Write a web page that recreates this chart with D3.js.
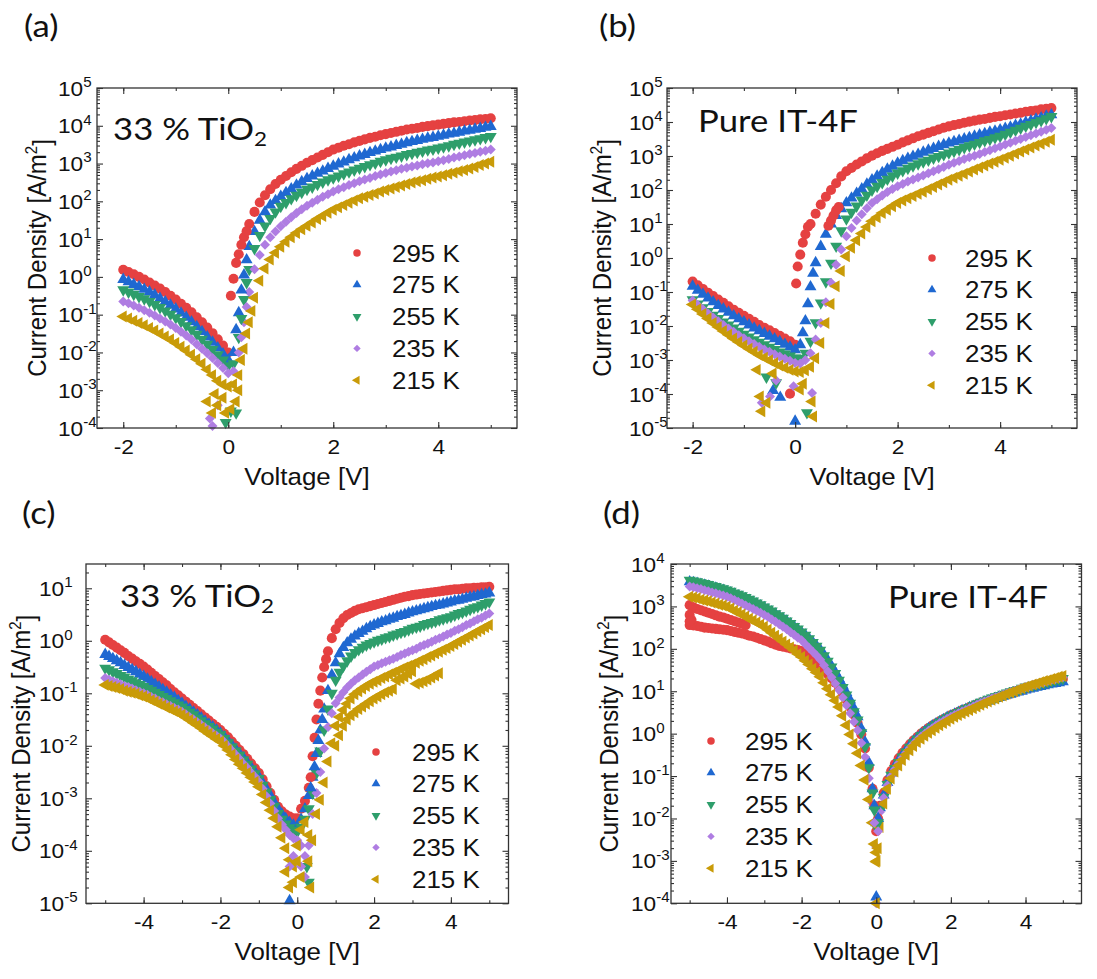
<!DOCTYPE html>
<html>
<head>
<meta charset="utf-8">
<script src="https://cdn.jsdelivr.net/npm/d3@7"></script>
<style>
body { margin: 0; background: #fff; }
svg { display: block; }
</style>
</head>
<body>
<svg id="fig" width="1097" height="979"></svg>
<script>
var temps = ["295 K", "275 K", "255 K", "235 K", "215 K"];
var colors = ["#E54141", "#1F68D1", "#2E9E6B", "#AF7DE2", "#C99B08"];

// voltage sweeps (V)
var voltsShort = [-2,-1.9,-1.8,-1.7,-1.6,-1.5,-1.4,-1.3,-1.2,-1.1,-1,-0.9,-0.8,-0.7,-0.6,-0.5,-0.4,-0.3,-0.2,-0.1,
  0,0.1,0.2,0.3,0.4,0.5,0.6,0.7,0.8,0.9,1,1.1,1.2,1.3,1.4,1.5,1.6,1.7,1.8,1.9,2,2.1,2.2,2.3,2.4,2.5,2.6,2.7,2.8,2.9,
  3,3.1,3.2,3.3,3.4,3.5,3.6,3.7,3.8,3.9,4,4.1,4.2,4.3,4.4,4.5,4.6,4.7,4.8,4.9,5];
var voltsLong = [-5,-4.9,-4.8,-4.7,-4.6,-4.5,-4.4,-4.3,-4.2,-4.1,-4,-3.9,-3.8,-3.7,-3.6,-3.5,-3.4,-3.3,-3.2,-3.1,
  -3,-2.9,-2.8,-2.7,-2.6,-2.5,-2.4,-2.3,-2.2,-2.1].concat(voltsShort);

// all current densities stored as log10(J / A m^-2)
// (a) 33 % TiO2, -2..5 V
var aJ295 = [0.19,0.13,0.07,0,-0.07,-0.15,-0.23,-0.31,-0.4,-0.5,-0.6,-0.71,-0.82,-0.94,-1.07,-1.2,-1.34,-1.49,-1.65,-1.82,-2,
  -0.05,0.6,1.05,1.4,1.72,1.97,2.16,2.32,2.46,2.57,2.67,2.77,2.86,2.94,3.02,3.09,3.16,3.23,3.3,3.37,
  3.42,3.47,3.51,3.56,3.6,3.64,3.68,3.71,3.75,3.78,3.81,3.84,3.87,3.9,3.92,3.94,3.97,3.99,4.01,4.03,
  4.05,4.07,4.09,4.1,4.12,4.14,4.15,4.17,4.18,4.2];
var aJ275 = [-0.07,-0.13,-0.2,-0.26,-0.33,-0.4,-0.48,-0.57,-0.66,-0.75,-0.85,-0.96,-1.07,-1.19,-1.32,-1.45,-1.59,-1.73,-1.88,-2.04,-2.2,
  -2,-0.95,0.05,0.8,1.2,1.5,1.72,1.9,2.02,2.13,2.23,2.33,2.43,2.52,2.6,2.67,2.74,2.8,2.87,2.93,
  2.99,3.04,3.1,3.15,3.2,3.24,3.29,3.33,3.37,3.41,3.44,3.48,3.51,3.55,3.58,3.61,3.64,3.67,3.69,3.72,
  3.75,3.78,3.8,3.83,3.86,3.88,3.91,3.93,3.96,3.98];
var aJ255 = [-0.34,-0.4,-0.46,-0.52,-0.58,-0.65,-0.73,-0.81,-0.9,-0.99,-1.08,-1.18,-1.29,-1.4,-1.52,-1.65,-1.78,-1.92,-2.06,-2.2,-2.35,
  -2.3,-1.6,-0.6,0.2,0.75,1.1,1.35,1.55,1.72,1.87,1.97,2.07,2.16,2.24,2.32,2.38,2.45,2.51,2.57,2.62,
  2.67,2.73,2.78,2.83,2.88,2.92,2.97,3.01,3.06,3.1,3.14,3.17,3.2,3.24,3.27,3.3,3.33,3.36,3.38,3.41,
  3.44,3.47,3.51,3.54,3.57,3.6,3.63,3.66,3.69,3.72];
var aJ235 = [-0.65,-0.7,-0.76,-0.82,-0.88,-0.95,-1.02,-1.1,-1.18,-1.26,-1.35,-1.45,-1.55,-1.66,-1.78,-1.9,-2.02,-2.15,-2.28,-2.41,-2.55,
  -2.5,-2,-1.2,-0.4,0.2,0.58,0.85,1.05,1.2,1.34,1.46,1.58,1.69,1.79,1.88,1.96,2.04,2.12,2.19,2.26,
  2.32,2.37,2.43,2.48,2.53,2.58,2.62,2.67,2.71,2.75,2.79,2.82,2.86,2.89,2.92,2.95,2.98,3.01,3.03,3.06,
  3.09,3.12,3.16,3.19,3.22,3.25,3.28,3.31,3.34,3.37];
var aJ215 = [-1.05,-1.1,-1.16,-1.22,-1.28,-1.35,-1.42,-1.5,-1.58,-1.66,-1.75,-1.85,-1.95,-2.06,-2.18,-2.3,-2.45,-2.6,-2.75,-2.85,-2.9,
  -2.85,-2.6,-1.9,-1.2,-0.55,-0.1,0.22,0.46,0.64,0.8,0.93,1.05,1.16,1.26,1.35,1.44,1.53,1.61,1.7,1.78,
  1.84,1.9,1.96,2.02,2.08,2.12,2.17,2.21,2.26,2.3,2.34,2.38,2.42,2.46,2.5,2.53,2.56,2.6,2.63,2.66,
  2.69,2.73,2.76,2.8,2.83,2.87,2.91,2.96,3,3.05];
// [series, V, log10 J] : in-between and scattered points near 0 V
var aExtra = [[0,0.05,-0.5],[0,0.15,0.37],[0,0.25,0.85],[0,0.35,1.21],
  [1,0.15,-1.4],[1,0.25,-0.35],[1,0.35,0.45],
  [2,0.25,-1.1],[2,0.35,-0.15],[2,0.15,-3.6],[2,0.05,-3.55],[2,-0.05,-3.85],
  [3,-0.3,-3.95],[3,-0.35,-3.75],[3,0.25,-1.6],[3,0.35,-0.8],[3,-0.2,-3.4],
  [4,-0.4,-3.3],[4,-0.3,-3.6],[4,-0.2,-3.4],[4,-0.25,-3.1],[4,-0.1,-3.2],[4,0.05,-3.5],[4,0.15,-3.3],
  [4,0.25,-2.2],[4,0.35,-1.5],[4,0.45,-0.9],[4,0.2,-3.0],[4,-0.05,-3.6]];

// (b) pure IT-4F, -2..5 V
var bJ295 = [-0.69,-0.8,-0.91,-1.02,-1.12,-1.22,-1.32,-1.42,-1.52,-1.61,-1.7,-1.79,-1.88,-1.97,-2.05,-2.13,-2.21,-2.29,-2.37,-2.45,-2.55,
  0.1,0.7,1,1.3,1.57,1.8,2,2.2,2.4,2.55,2.65,2.75,2.84,2.93,3.01,3.08,3.15,3.21,3.27,3.33,
  3.4,3.46,3.52,3.58,3.63,3.68,3.73,3.78,3.83,3.87,3.91,3.94,3.98,4.01,4.04,4.07,4.09,4.12,4.15,4.17,
  4.2,4.22,4.25,4.27,4.3,4.32,4.34,4.37,4.39,4.41];
var bJ275 = [-0.83,-0.95,-1.07,-1.18,-1.29,-1.4,-1.5,-1.6,-1.7,-1.79,-1.88,-1.97,-2.06,-2.14,-2.22,-2.3,-2.38,-2.46,-2.54,-2.62,-2.7,
  -2.55,-1.85,-0.85,-0.14,0.34,0.7,1,1.25,1.45,1.62,1.76,1.9,2.03,2.17,2.3,2.41,2.51,2.61,2.7,2.79,
  2.86,2.93,2.99,3.05,3.11,3.17,3.22,3.28,3.33,3.38,3.42,3.46,3.5,3.54,3.58,3.62,3.66,3.7,3.73,3.77,
  3.81,3.85,3.9,3.94,3.99,4.03,4.08,4.12,4.17,4.21];
var bJ255 = [-1.23,-1.35,-1.46,-1.57,-1.68,-1.78,-1.88,-1.97,-2.06,-2.15,-2.24,-2.32,-2.4,-2.48,-2.55,-2.62,-2.69,-2.76,-2.82,-2.88,-2.94,
  -2.95,-2.8,-2.45,-1.9,-1.32,-0.7,-0.15,0.35,0.8,1.15,1.35,1.53,1.7,1.85,2,2.11,2.22,2.32,2.41,2.5,
  2.57,2.64,2.71,2.77,2.83,2.88,2.94,2.99,3.04,3.09,3.14,3.19,3.25,3.3,3.35,3.4,3.45,3.49,3.54,3.58,
  3.64,3.7,3.76,3.82,3.88,3.93,3.99,4.04,4.1,4.16];
var bJ235 = [-1.25,-1.38,-1.51,-1.63,-1.75,-1.86,-1.97,-2.07,-2.17,-2.27,-2.36,-2.45,-2.53,-2.61,-2.69,-2.76,-2.83,-2.9,-2.96,-3.02,-3.09,
  -3.1,-3,-2.8,-2.4,-1.91,-1.3,-0.73,-0.2,0.25,0.64,0.88,1.1,1.29,1.46,1.62,1.73,1.84,1.94,2.03,2.11,
  2.18,2.25,2.31,2.37,2.43,2.49,2.55,2.61,2.68,2.74,2.8,2.85,2.91,2.96,3.01,3.06,3.12,3.17,3.23,3.28,
  3.34,3.39,3.45,3.5,3.56,3.61,3.66,3.71,3.77,3.82];
var bJ215 = [-1.37,-1.51,-1.65,-1.78,-1.91,-2.03,-2.15,-2.26,-2.37,-2.47,-2.57,-2.67,-2.76,-2.85,-2.93,-3.01,-3.09,-3.16,-3.23,-3.29,-3.34,
  -3.35,-3.3,-3.2,-2.95,-2.5,-1.91,-1.35,-0.83,-0.38,0.05,0.3,0.52,0.72,0.91,1.08,1.2,1.32,1.42,1.52,1.62,
  1.69,1.76,1.82,1.89,1.95,2.02,2.09,2.16,2.23,2.3,2.36,2.42,2.48,2.54,2.6,2.66,2.72,2.78,2.83,2.89,
  2.95,3.01,3.07,3.13,3.19,3.25,3.31,3.36,3.42,3.48];
var bExtra = [[0,0.02,-0.75],[0,0.05,-0.25],[0,0.15,0.45],[0,0.25,0.92],[0,-0.1,-3.99],
  [0,0.65,0.95],[0,0.7,1.1],[0,0.75,1.25],[0,0.8,1.4],[0,0.85,1.5],
  [1,0,-4.8],[1,-0.29,-4.1],[1,-0.43,-3.9],[1,0.15,-2.2],[1,0.25,-1.35],[1,0.35,-0.45],
  [2,0.23,-4.55],[2,-0.37,-3.67],[2,-0.56,-3.5],
  [3,-0.65,-4.26],[3,-0.49,-4.07],[3,-0.03,-3.77],[3,0.33,-3.97],[3,-0.37,-3.6],
  [4,-0.65,-4.51],[4,-0.55,-4.26],[4,-0.68,-4.07],[4,-0.74,-3.29],[4,0.36,-4.66],[4,0.33,-4.22],
  [4,0.1,-3.87],[4,0.16,-3.7],[4,-0.43,-3.4]];

// (c) 33 % TiO2, -5..5 V
var cJ295 = [0.02,-0.03,-0.08,-0.13,-0.18,-0.23,-0.29,-0.34,-0.39,-0.44,
  -0.49,-0.55,-0.61,-0.67,-0.73,-0.79,-0.85,-0.92,-0.98,-1.04,
  -1.1,-1.16,-1.22,-1.28,-1.34,-1.4,-1.46,-1.52,-1.58,-1.64,
  -1.7,-1.77,-1.84,-1.92,-2,-2.08,-2.16,-2.25,-2.34,-2.43,
  -2.52,-2.64,-2.77,-2.9,-3.03,-3.16,-3.25,-3.31,-3.35,-3.38,-3.38,
  -3.2,-3.05,-2.8,-2.2,-1.5,-0.95,-0.5,-0.2,0.05,0.22,
  0.34,0.43,0.49,0.53,0.57,0.6,0.62,0.64,0.66,0.68,
  0.7,0.72,0.74,0.76,0.78,0.8,0.82,0.84,0.85,0.87,
  0.88,0.89,0.9,0.91,0.92,0.93,0.94,0.95,0.96,0.97,
  0.98,0.98,0.99,1,1,1.01,1.01,1.02,1.02,1.03];
var cJ275 = [-0.26,-0.3,-0.34,-0.38,-0.42,-0.47,-0.51,-0.55,-0.59,-0.64,
  -0.68,-0.73,-0.78,-0.83,-0.88,-0.93,-0.98,-1.03,-1.08,-1.14,
  -1.19,-1.25,-1.3,-1.36,-1.41,-1.47,-1.53,-1.59,-1.64,-1.7,
  -1.76,-1.83,-1.91,-1.99,-2.07,-2.15,-2.23,-2.32,-2.41,-2.5,
  -2.59,-2.71,-2.83,-2.95,-3.08,-3.2,-3.3,-3.39,-3.46,-3.51,-3.54,
  -3.4,-3.2,-2.95,-2.6,-2.15,-1.7,-1.3,-0.95,-0.65,-0.42,
  -0.25,-0.13,-0.04,0.03,0.09,0.14,0.18,0.23,0.27,0.3,
  0.33,0.36,0.38,0.41,0.43,0.46,0.48,0.5,0.53,0.55,
  0.57,0.59,0.61,0.63,0.65,0.67,0.68,0.7,0.72,0.74,
  0.76,0.77,0.79,0.81,0.83,0.84,0.86,0.88,0.89,0.91];
var cJ255 = [-0.52,-0.55,-0.59,-0.62,-0.66,-0.69,-0.73,-0.76,-0.8,-0.83,
  -0.87,-0.91,-0.94,-0.98,-1.02,-1.06,-1.1,-1.14,-1.18,-1.22,
  -1.26,-1.31,-1.36,-1.41,-1.47,-1.52,-1.58,-1.63,-1.68,-1.74,
  -1.79,-1.86,-1.94,-2.02,-2.1,-2.18,-2.27,-2.35,-2.44,-2.53,
  -2.62,-2.75,-2.88,-3.02,-3.15,-3.29,-3.4,-3.49,-3.56,-3.61,-3.64,
  -3.55,-3.4,-3.2,-2.9,-2.52,-2.1,-1.7,-1.3,-1,-0.75,
  -0.6,-0.48,-0.38,-0.29,-0.22,-0.17,-0.12,-0.08,-0.05,-0.02,
  0.01,0.03,0.06,0.08,0.11,0.13,0.16,0.18,0.21,0.24,
  0.26,0.28,0.31,0.33,0.35,0.37,0.4,0.42,0.44,0.46,
  0.49,0.52,0.54,0.57,0.6,0.63,0.65,0.68,0.71,0.74];
var cJ235 = [-0.71,-0.74,-0.77,-0.8,-0.83,-0.86,-0.88,-0.91,-0.94,-0.97,
  -1,-1.03,-1.07,-1.1,-1.14,-1.17,-1.21,-1.24,-1.28,-1.31,
  -1.35,-1.4,-1.45,-1.5,-1.55,-1.6,-1.65,-1.7,-1.76,-1.81,
  -1.86,-1.93,-2.01,-2.09,-2.17,-2.25,-2.34,-2.42,-2.51,-2.59,
  -2.68,-2.82,-2.96,-3.1,-3.24,-3.38,-3.5,-3.6,-3.7,-3.76,-3.8,
  -3.9,-4.1,-3.9,-3.3,-2.9,-2.5,-2.05,-1.64,-1.38,-1.19,
  -1.08,-0.98,-0.89,-0.82,-0.75,-0.7,-0.64,-0.59,-0.54,-0.49,
  -0.46,-0.43,-0.4,-0.37,-0.34,-0.31,-0.27,-0.24,-0.21,-0.18,
  -0.15,-0.11,-0.08,-0.05,-0.02,0.02,0.05,0.08,0.12,0.15,
  0.19,0.22,0.26,0.3,0.33,0.37,0.41,0.44,0.48,0.52];
var cJ215 = [-0.84,-0.86,-0.88,-0.9,-0.92,-0.95,-0.97,-0.99,-1.01,-1.04,
  -1.06,-1.09,-1.13,-1.16,-1.2,-1.23,-1.27,-1.3,-1.34,-1.37,
  -1.41,-1.46,-1.51,-1.56,-1.61,-1.66,-1.72,-1.77,-1.82,-1.87,
  -1.92,-2,-2.08,-2.17,-2.26,-2.35,-2.43,-2.52,-2.6,-2.69,
  -2.78,-2.93,-3.08,-3.23,-3.38,-3.54,-3.75,-3.95,-4.17,-4.3,-3.9,
  -3.6,-3.45,-3.7,-3.8,-3.3,-3.03,-2.7,-2.3,-1.95,-1.62,
  -1.45,-1.32,-1.2,-1.1,-1.02,-0.96,-0.91,-0.86,-0.82,-0.78,
  -0.75,-0.71,-0.68,-0.64,-0.61,-0.58,-0.54,-0.51,-0.48,-0.45,
  -0.42,-0.38,-0.35,-0.31,-0.28,-0.24,-0.21,-0.17,-0.14,-0.1,
  -0.06,-0.02,0.02,0.06,0.1,0.14,0.18,0.22,0.26,0.3];
// 215 K second (lower) branch, 1.0..3.7 V
var cJ215Low = [-2,-1.8,-1.62,-1.5,-1.42,-1.36,-1.3,-1.25,-1.2,-1.15,-1.1,-1.06,-1.02,-0.98,-0.95,-0.92,
  -0.75,-0.72,-0.68,-0.63,-0.58,-0.82,-0.8,-0.77,-0.74,-0.7,-0.66,-0.62];
var cExtra = [[1,-0.2,-4.95],
  [0,0.35,-2.6],[0,0.45,-1.85],[0,0.55,-1.2],[0,0.65,-0.7],[0,0.75,-0.35],
  [1,0.35,-2.8],[1,0.45,-2.4],[1,0.55,-1.9],[1,0.65,-1.5],
  [2,0.3,-4.6],[2,0.25,-4.3],
  [3,-0.1,-4.1],[3,0.1,-4.3],[3,0.2,-4.5],[3,-0.2,-4.3],
  [4,-0.3,-4.4],[4,-0.2,-4.7],[4,-0.1,-4.6],[4,0,-4.2],[4,0.1,-4.5],[4,0.35,-4.7],[4,0.3,-4.2]];

// (d) pure IT-4F, -5..5 V
var dJ295 = [2.56,2.55,2.54,2.52,2.5,2.49,2.48,2.47,2.46,2.45,
  2.44,2.42,2.4,2.38,2.36,2.34,2.31,2.29,2.26,2.23,
  2.2,2.17,2.13,2.1,2.07,2.05,2.03,2.01,1.99,1.97,
  1.95,1.89,1.83,1.76,1.68,1.6,1.51,1.41,1.31,1.2,
  1.1,0.95,0.8,0.63,0.45,0.25,-0.02,-0.35,-0.8,-1.3,-2.3,
  -1.7,-1.4,-1.1,-0.88,-0.72,-0.58,-0.46,-0.35,-0.25,-0.16,
  -0.08,0,0.07,0.13,0.19,0.24,0.29,0.34,0.38,0.43,
  0.47,0.51,0.55,0.58,0.62,0.65,0.69,0.72,0.75,0.78,
  0.81,0.84,0.87,0.9,0.93,0.95,0.98,1.01,1.03,1.06,
  1.08,1.11,1.13,1.15,1.18,1.2,1.22,1.25,1.27,1.29];
// 295 K upper branch, -5.0..-3.5 V
var dJ295High = [3.03,2.98,2.94,2.91,2.88,2.85,2.82,2.79,2.76,2.74,2.71,2.68,2.65,2.62,2.59,2.56];
var dJ275 = [3.58,3.56,3.54,3.52,3.5,3.48,3.45,3.43,3.4,3.38,
  3.35,3.32,3.29,3.25,3.22,3.18,3.14,3.1,3.06,3.01,
  2.97,2.92,2.87,2.82,2.76,2.71,2.65,2.59,2.52,2.46,
  2.39,2.32,2.24,2.16,2.07,1.98,1.86,1.73,1.6,1.45,
  1.3,1.14,0.97,0.79,0.6,0.4,0.12,-0.2,-0.68,-1.3,-2.1,
  -1.75,-1.45,-1.15,-0.93,-0.77,-0.63,-0.5,-0.39,-0.28,-0.18,
  -0.1,-0.02,0.05,0.12,0.18,0.23,0.28,0.33,0.38,0.42,
  0.46,0.5,0.54,0.57,0.61,0.64,0.68,0.71,0.74,0.77,
  0.8,0.83,0.86,0.88,0.91,0.93,0.96,0.98,1,1.03,
  1.05,1.07,1.09,1.11,1.13,1.15,1.17,1.18,1.2,1.22];
var dJ255 = [3.62,3.6,3.58,3.56,3.54,3.52,3.49,3.47,3.44,3.42,
  3.39,3.36,3.32,3.29,3.25,3.21,3.17,3.13,3.08,3.04,
  2.99,2.94,2.89,2.83,2.78,2.72,2.66,2.6,2.53,2.47,
  2.4,2.32,2.24,2.15,2.06,1.97,1.84,1.71,1.57,1.42,
  1.26,1.09,0.91,0.72,0.52,0.32,0.02,-0.31,-0.8,-1.4,-2.2,
  -1.8,-1.5,-1.2,-0.98,-0.82,-0.68,-0.55,-0.43,-0.32,-0.22,
  -0.13,-0.05,0.02,0.09,0.15,0.21,0.27,0.32,0.37,0.42,
  0.46,0.5,0.54,0.58,0.62,0.66,0.7,0.74,0.77,0.81,
  0.84,0.87,0.9,0.93,0.96,0.99,1.02,1.04,1.07,1.1,
  1.12,1.14,1.16,1.18,1.2,1.22,1.24,1.26,1.28,1.3];
var dJ235 = [3.47,3.45,3.43,3.41,3.38,3.36,3.33,3.31,3.28,3.26,
  3.23,3.19,3.15,3.11,3.07,3.02,2.98,2.94,2.89,2.85,
  2.8,2.75,2.69,2.64,2.58,2.52,2.46,2.39,2.33,2.26,
  2.2,2.11,2.02,1.93,1.84,1.74,1.61,1.47,1.33,1.18,
  1.03,0.85,0.67,0.48,0.28,0.08,-0.22,-0.55,-1.05,-1.64,-2.67,
  -1.85,-1.52,-1.22,-1,-0.84,-0.7,-0.57,-0.45,-0.34,-0.24,
  -0.15,-0.07,0,0.07,0.13,0.19,0.25,0.3,0.35,0.4,
  0.44,0.48,0.52,0.56,0.6,0.64,0.68,0.72,0.76,0.79,
  0.83,0.86,0.89,0.92,0.95,0.98,1.01,1.04,1.07,1.1,
  1.12,1.15,1.17,1.2,1.22,1.25,1.27,1.29,1.31,1.33];
var dJ215 = [3.23,3.21,3.19,3.16,3.14,3.12,3.09,3.07,3.04,3.02,
  2.99,2.95,2.9,2.86,2.81,2.76,2.71,2.67,2.62,2.57,
  2.52,2.45,2.38,2.31,2.24,2.17,2.1,2.03,1.96,1.88,
  1.81,1.72,1.63,1.53,1.44,1.34,1.2,1.06,0.92,0.78,
  0.63,0.42,0.2,-0.02,-0.24,-0.46,-0.75,-1.09,-1.55,-2.1,-3.02,
  -2.2,-1.65,-1.3,-1.06,-0.89,-0.75,-0.62,-0.5,-0.39,-0.29,
  -0.2,-0.12,-0.05,0.02,0.08,0.14,0.2,0.25,0.3,0.35,
  0.4,0.44,0.48,0.52,0.56,0.6,0.64,0.68,0.72,0.76,
  0.8,0.83,0.87,0.9,0.94,0.97,1,1.04,1.07,1.1,
  1.13,1.16,1.18,1.21,1.24,1.26,1.29,1.31,1.34,1.36];
var dExtra = [[0,-5,2.8],[0,-4.95,2.68],[0,-5,2.65],[0,-0.05,-1.7],[0,0.05,-2.0],
  [1,-0.05,-1.7],[1,0.05,-2.0],[1,0,-3.85],
  [2,-0.05,-1.8],[2,0.05,-2.1],
  [3,-0.05,-2.1],[3,0.05,-2.3],[3,0,-4],
  [4,-0.05,-2.6],[4,0.05,-2.7],[4,0,-2.8],[4,0.02,-3.0],[4,0,-4]];

var xTicksShort = [-2, 0, 2, 4];
var xTicksLong = [-4, -2, 0, 2, 4];

var panels = [
  { tag: "(a)", tagX: 24, tagY: 37, note: "tio2", noteX: 113, noteY: 140,
    left: 97, right: 517, top: 88, bottom: 428, xDom: [-2.5, 5.5], yExp: [-4, 5], yTop: 1e5,
    xTicks: xTicksShort, labX: 39, titleX: 46, legX: 357, legTextX: 392, legY: 253,
    series: [[voltsShort, aJ295, 0], [voltsShort, aJ275, 1], [voltsShort, aJ255, 2], [voltsShort, aJ235, 3], [voltsShort, aJ215, 4]],
    extra: aExtra },
  { tag: "(b)", tagX: 599, tagY: 37, note: "pure", noteX: 698, noteY: 132,
    left: 667, right: 1077, top: 88, bottom: 428, xDom: [-2.5, 5.5], yExp: [-5, 5], yTop: 1e5,
    xTicks: xTicksShort, labX: 38, titleX: 611, legX: 932, legTextX: 965, legY: 258,
    series: [[voltsShort, bJ295, 0], [voltsShort, bJ275, 1], [voltsShort, bJ255, 2], [voltsShort, bJ235, 3], [voltsShort, bJ215, 4]],
    extra: bExtra },
  { tag: "(c)", tagX: 22, tagY: 524, note: "tio2", noteX: 120, noteY: 607,
    left: 86, right: 508.5, top: 564, bottom: 903.3, xDom: [-5.5, 5.5], yExp: [-5, 1], yTop: 29,
    xTicks: xTicksLong, labX: 47, titleX: 30, legX: 376, legTextX: 412, legY: 752,
    series: [[voltsLong, cJ295, 0], [voltsLong, cJ275, 1], [voltsLong, cJ255, 2], [voltsLong, cJ235, 3], [voltsLong, cJ215, 4],
      [voltsShort.slice(30, 58), cJ215Low, 4]],
    extra: cExtra },
  { tag: "(d)", tagX: 603, tagY: 524, note: "pure", noteX: 888, noteY: 608,
    left: 671, right: 1081.5, top: 564, bottom: 903.3, xDom: [-5.5, 5.5], yExp: [-4, 4], yTop: 1e4,
    xTicks: xTicksLong, labX: 40, titleX: 618, legX: 711, legTextX: 745, legY: 741,
    series: [[voltsLong, dJ295, 0], [voltsLong.slice(0, 16), dJ295High, 0], [voltsLong, dJ275, 1], [voltsLong, dJ255, 2],
      [voltsLong, dJ235, 3], [voltsLong, dJ215, 4]],
    extra: dExtra }
];

var svg = d3.select("#fig");
var sansFont = "'Liberation Sans', Arial, Helvetica, sans-serif";
var noteFont = "Lato, Carlito, 'Open Sans', sans-serif";
var sansStretch = 1.08, noteStretch = 1.12;   // the original figure is slightly widened
var symTypes = [d3.symbolCircle, d3.symbolTriangle, d3.symbolTriangle, d3.symbolSquare, d3.symbolTriangle];
var symRot = [0, 0, 180, 45, -90];
var symSize = [80, 62, 62, 50, 62];

function markerPath(si, scale) {
  return d3.symbol().type(symTypes[si]).size(symSize[si] * scale)();
}

// text placed with its anchor at (x, y), widened by k
function putText(parent, x, y, k) {
  return parent.append("text").attr("transform", "translate(" + x + "," + y + ") scale(" + k + ",1)");
}

function drawPanel(p) {
  var g = svg.append("g");
  var x = d3.scaleLinear().domain(p.xDom).range([p.left, p.right]);
  var y = d3.scaleLog().domain([Math.pow(10, p.yExp[0]), p.yTop]).range([p.bottom, p.top]);

  // markers
  var marks = g.append("g");
  p.series.forEach(function (s) {
    var volts = s[0], vals = s[1], si = s[2];
    var pts = vals.map(function (v, i) { return { v: volts[i], j: Math.pow(10, v) }; })
      .filter(function (d) { return d.v !== undefined; });
    marks.append("g").selectAll("path").data(pts).join("path")
      .attr("d", markerPath(si, 1))
      .attr("fill", colors[si])
      .attr("transform", function (d) { return "translate(" + x(d.v) + "," + y(d.j) + ") rotate(" + symRot[si] + ")"; });
  });
  marks.append("g").selectAll("path").data(p.extra).join("path")
    .attr("d", function (d) { return markerPath(d[0], 1); })
    .attr("fill", function (d) { return colors[d[0]]; })
    .attr("transform", function (d) { return "translate(" + x(d[1]) + "," + y(Math.pow(10, d[2])) + ") rotate(" + symRot[d[0]] + ")"; });

  // ticks
  var majorY = d3.range(p.yExp[0], p.yExp[1] + 1).map(function (e) { return Math.pow(10, e); });
  var minorY = [];
  d3.range(p.yExp[0], p.yExp[1] + 1).forEach(function (e) {
    for (var k = 2; k <= 9; k++) {
      var val = k * Math.pow(10, e);
      if (val < p.yTop) minorY.push(val);
    }
  });
  var minorX = d3.range(Math.ceil(p.xDom[0]), Math.floor(p.xDom[1]) + 1);

  function styleAxis(sel) {
    sel.select(".domain").remove();
    sel.selectAll("line").attr("stroke", "#333").attr("stroke-width", 1.1);
  }

  g.append("g").attr("transform", "translate(0," + p.bottom + ")")
    .call(d3.axisBottom(x).tickValues(minorX).tickSize(-3).tickFormat("")).call(styleAxis);
  g.append("g").attr("transform", "translate(0," + p.top + ")")
    .call(d3.axisTop(x).tickValues(minorX).tickSize(-3).tickFormat("")).call(styleAxis);
  g.append("g").attr("transform", "translate(0," + p.top + ")")
    .call(d3.axisTop(x).tickValues(p.xTicks).tickSize(-6).tickFormat("")).call(styleAxis);
  var xb = g.append("g").attr("transform", "translate(0," + p.bottom + ")")
    .call(d3.axisBottom(x).tickValues(p.xTicks).tickSize(-6).tickPadding(11)
      .tickFormat(function (d) { return String(d); }));
  styleAxis(xb);
  xb.selectAll("text").attr("fill", "#111").style("font-family", sansFont).style("font-size", "21px")
    .attr("transform", "scale(" + sansStretch + ",1)");

  [[d3.axisLeft, p.left], [d3.axisRight, p.right]].forEach(function (a) {
    g.append("g").attr("transform", "translate(" + a[1] + ",0)")
      .call(a[0](y).tickValues(minorY).tickSize(-3).tickFormat("")).call(styleAxis);
    g.append("g").attr("transform", "translate(" + a[1] + ",0)")
      .call(a[0](y).tickValues(majorY).tickSize(-6).tickFormat("")).call(styleAxis);
  });

  // y tick labels 10^n
  var yl = g.append("g").style("font-family", sansFont).attr("fill", "#111");
  majorY.forEach(function (val) {
    var t = putText(yl, p.left - p.labX, y(val), sansStretch).attr("dy", "0.36em").style("font-size", "21px");
    t.append("tspan").text("10");
    t.append("tspan").attr("dy", "-0.62em").style("font-size", "14px")
      .text(String(Math.round(Math.log10(val))));
  });

  // frame
  g.append("rect").attr("x", p.left).attr("y", p.top)
    .attr("width", p.right - p.left).attr("height", p.bottom - p.top)
    .attr("fill", "none").attr("stroke", "#333").attr("stroke-width", 1.3);

  // axis titles
  putText(g, (p.left + p.right) / 2, p.bottom + 57, sansStretch)
    .attr("text-anchor", "middle").style("font-family", sansFont).style("font-size", "24px")
    .attr("fill", "#111").text("Voltage [V]");
  var yt = g.append("text")
    .attr("transform", "translate(" + p.titleX + "," + ((p.top + p.bottom) / 2) + ") rotate(-90) scale(1," + sansStretch + ")")
    .attr("text-anchor", "middle").style("font-family", sansFont).style("font-size", "24px").attr("fill", "#111");
  yt.append("tspan").text("Current Density [A/m");
  yt.append("tspan").attr("dy", "-0.55em").style("font-size", "15px").text("2");
  yt.append("tspan").attr("dy", "0.55em").text("]");

  // legend
  var leg = g.append("g");
  temps.forEach(function (name, i) {
    var ly = p.legY + i * 31.8;
    leg.append("path").attr("d", markerPath(i, 0.55)).attr("fill", colors[i])
      .attr("transform", "translate(" + p.legX + "," + ly + ") rotate(" + symRot[i] + ")");
    putText(leg, p.legTextX, ly, sansStretch).attr("dy", "0.36em")
      .style("font-family", sansFont).style("font-size", "24px").attr("fill", "#111").text(name);
  });

  // sample annotation
  var nt = putText(g, p.noteX, p.noteY, noteStretch)
    .style("font-family", noteFont).style("font-size", "31px").attr("fill", "#111");
  if (p.note === "tio2") {
    nt.append("tspan").text("33 % TiO");
    nt.append("tspan").attr("dy", "0.28em").style("font-size", "20px").text("2");
  } else {
    nt.text("Pure IT-4F");
  }

  // panel tag
  putText(svg, p.tagX, p.tagY, noteStretch)
    .style("font-family", noteFont).style("font-size", "31px").attr("fill", "#111").text(p.tag);
}

panels.forEach(drawPanel);
</script>
</body>
</html>
